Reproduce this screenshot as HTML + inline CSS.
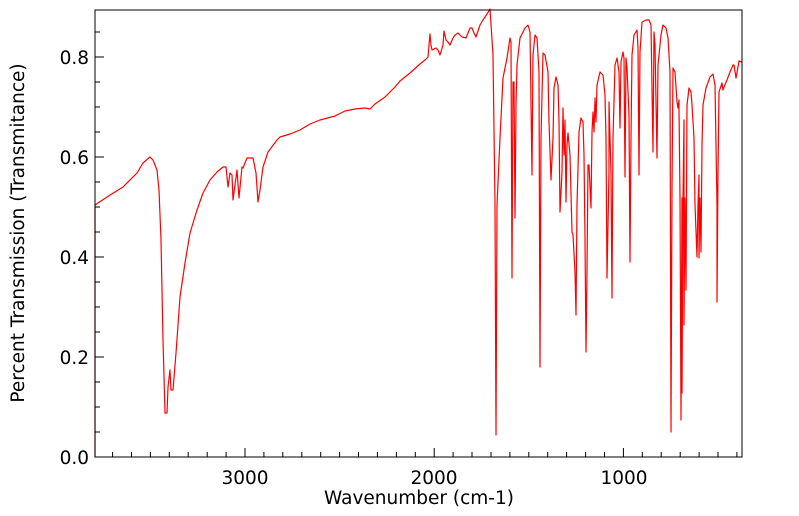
<!DOCTYPE html>
<html><head><meta charset="utf-8"><style>
html,body{margin:0;padding:0;background:#fff;}
svg{display:block;}
text{font-family:"DejaVu Sans","Liberation Sans",sans-serif;font-size:18.5px;fill:#000;}
</style></head><body>
<svg width="799" height="516" viewBox="0 0 799 516" xmlns="http://www.w3.org/2000/svg">
<rect width="799" height="516" fill="#fff"/>
<polyline fill="none" stroke="#ff0000" stroke-width="1.2" stroke-linejoin="round" points="
95,457 95,205 107,197 123,187 137,173 143,163 150,157 153,160 157,170 159,190 161,240 163,340 165,413 167,413 168,387 170,370 171,390 173,390 176,353 180,297 185,263 190,233 197,210 203,193 210,180 217,172 223,167 226,167 228,187 230,173 232,175 233,200 237,170 239,198 242,167 243,168 247,158 253,158 256,173 258,202 260,190 263,167 268,152 277,140
280,137 290,134 300,130 310,124 320,120 335,116 345,111 355,109 365,108 370,109 375,104 385,97 395,87 400,81 410,73 420,64 425,60 428,57 429,45 430,34 431,45 432,50 436,48 438,50 440,55 443,45 444,31 446,40 448,42 450,45 453,38 455,35 458,33 462,37 466,38 470,28 472,28 474,33 476,37 480,25 483,20 487,14 490,9
493,55 495,205 496,435 497,205 500,138 503,78 507,58 510,38 511,42 512,278 513,82 514,82 515,218 516,105 517,65 520,38 525,28 528,25 530,32 532,175 533,55 535,35 537,38 539,72 540,367 541,138 543,53 545,55 548,72 549,122 551,180 553,138 554,88 556,77 558,85 559,122 560,212 562,172 563,108 564,155 565,120 566,202 567,145 568,133 570,155 572,232 573,235 575,272 576,315 577,205 579,132 581,118 583,122 584,155 585,238 586,352 587,272 588,165 589,165 591,208 592,132 593,112 594,132 595,98 596,122 597,85 600,72 603,75 605,95 606,138 607,278 609,172 609,102 611,172 612,298 613,138 615,65 617,58 619,72 620,128 621,62 623,52 624,58 625,177 626,58 627,68 629,115 630,262 631,138 632,55 634,35 637,30 638,48 639,175 640,52 642,22 646,20 649,20 651,25 652,88 653,152 654,32 655,45 657,158 658,65 661,35 663,25 666,28 668,38 670,72 671,432 672,188 673,68 675,72 677,102 678,108 679,100 679,108 680,198 681,420 682,198 682,393 683,198 684,120 684,325 685,198 686,290 687,105 689,88 691,92 692,105 694,138 695,205 697,257 698,205 699,175 699,258 700,198 701,252 702,145 703,105 706,88 710,77 713,74 715,85 717,205 717,302 718,172 719,92 722,83 723,90 724,87 727,80 730,72 733,65 734,65 736,78 738,67 739,61 742,62"/>
<g stroke="#000" stroke-width="1">
<path d="M95,457h9M95,432h5M95,407h5M95,382h5M95,357h9M95,332h5M95,307h5M95,282h5M95,257h9M95,232h5M95,207h5M95,182h5M95,157h9M95,132h5M95,107h5M95,82h5M95,57h9M95,32h5"/>
<path d="M112.6,457v-5M131.5,457v-5M150.4,457v-5M169.3,457v-5M188.2,457v-5M207.2,457v-5M226.1,457v-5M245,457v-9M263.9,457v-5M282.8,457v-5M301.8,457v-5M320.7,457v-5M339.6,457v-5M358.5,457v-5M377.4,457v-5M396.4,457v-5M415.3,457v-5M434.2,457v-9M453.1,457v-5M472,457v-5M491,457v-5M509.9,457v-5M528.8,457v-5M547.7,457v-5M566.6,457v-5M585.6,457v-5M604.5,457v-5M623.4,457v-9M642.3,457v-5M661.2,457v-5M680.2,457v-5M699.1,457v-5M718,457v-5M736.9,457v-5"/>
</g>
<rect x="95" y="10" width="647" height="447" fill="none" stroke="#000" stroke-width="1"/>
<text x="89" y="464" text-anchor="end">0.0</text>
<text x="89" y="364" text-anchor="end">0.2</text>
<text x="89" y="264" text-anchor="end">0.4</text>
<text x="89" y="164" text-anchor="end">0.6</text>
<text x="89" y="64" text-anchor="end">0.8</text>
<text x="245" y="484" text-anchor="middle">3000</text>
<text x="434" y="484" text-anchor="middle">2000</text>
<text x="624" y="484" text-anchor="middle">1000</text>
<text x="419" y="504" text-anchor="middle">Wavenumber (cm-1)</text>
<text transform="translate(24,233) rotate(-90)" text-anchor="middle">Percent Transmission (Transmitance)</text>
</svg>
</body></html>
